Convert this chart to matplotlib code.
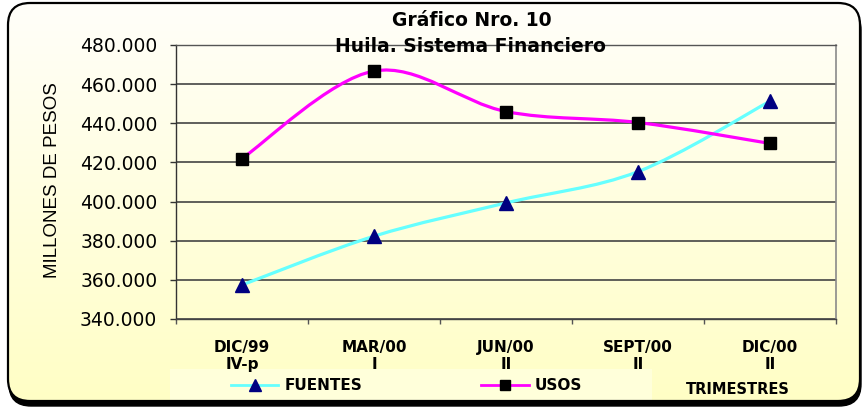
"""
Gráfico Nro. 10 — Huila. Sistema Financiero
Fuentes y usos por trimestre (millones de pesos).
"""

import numpy as np
import matplotlib
matplotlib.use("Agg")
import matplotlib.pyplot as plt
from matplotlib.lines import Line2D
from matplotlib.patches import FancyBboxPatch, PathPatch, Rectangle
from matplotlib.path import Path

# Datos
TRIMESTRES = ["DIC/99\nIV-p", "MAR/00\nI", "JUN/00\nII", "SEPT/00\nII", "DIC/00\nII"]
FUENTES = [357400, 382300, 399300, 415300, 451300]
USOS = [422000, 466700, 446000, 440400, 429700]
Y_TICKS = [340000, 360000, 380000, 400000, 420000, 440000, 460000, 480000]

W, H = 865, 408
COLOR_FUENTES = "#66FFFF"
COLOR_USOS = "#FF00FF"


def curva_suave(xs, ys):
    """Curva Bezier suavizada (estilo Excel) que pasa por todos los puntos."""
    pts = np.column_stack([xs, ys]).astype(float)
    ext = np.vstack([pts[0], pts, pts[-1]])
    verts = [pts[0]]
    codes = [Path.MOVETO]
    for i in range(len(pts) - 1):
        p0, p1, p2, p3 = ext[i], ext[i + 1], ext[i + 2], ext[i + 3]
        verts += [p1 + (p2 - p0) / 6, p2 - (p3 - p1) / 6, p2]
        codes += [Path.CURVE4] * 3
    return Path(verts, codes)


fig = plt.figure(figsize=(W / 100, H / 100), dpi=100)
fig.patch.set_facecolor("white")

# --- Fondo: recuadro redondeado con sombra y degradado ---
bg = fig.add_axes([0, 0, 1, 1], zorder=-5)
bg.set_xlim(0, W)
bg.set_ylim(H, 0)
bg.axis("off")

R = 22
x0, y0, ancho, alto = 8, 3, 852, 398
sombra = FancyBboxPatch((x0 + 1 + R, y0 + 5 + R), ancho - 2 * R, alto - 2 * R,
                        boxstyle=f"round,pad={R}", fc="black", ec="black", lw=1)
bg.add_patch(sombra)
caja = FancyBboxPatch((x0 + R, y0 + R), ancho - 2 * R, alto - 2 * R,
                      boxstyle=f"round,pad={R}", fc="#FFFFF0", ec="none")
bg.add_patch(caja)

grad = np.linspace(0, 1, 256)[:, None]
top = np.array([255, 255, 250]) / 255
bot = np.array([255, 254, 196]) / 255
img = top + (bot - top) * grad[..., None]
img = np.repeat(img, 2, axis=1)
im = bg.imshow(img, extent=(0, W, H, 0), aspect="auto", zorder=1)
im.set_clip_path(caja)
borde = FancyBboxPatch((x0 + R, y0 + R), ancho - 2 * R, alto - 2 * R,
                       boxstyle=f"round,pad={R}", fc="none", ec="black", lw=1.6, zorder=2)
bg.add_patch(borde)
# zona clara de la leyenda
bg.add_patch(Rectangle((170, 369), 482, 31, fc="#FFFFDA", ec="none", zorder=1.5))

# --- Área del gráfico ---
ax = fig.add_axes([176 / W, 1 - 319 / H, (836 - 176) / W, (319 - 45) / H])
ax.set_facecolor("none")

x = np.arange(len(TRIMESTRES))

for serie, color in [(FUENTES, COLOR_FUENTES), (USOS, COLOR_USOS)]:
    ax.add_patch(PathPatch(curva_suave(x, serie), fc="none", ec=color,
                           lw=2.3, zorder=3, capstyle="round"))

ax.plot(x, FUENTES, linestyle="none", marker="^", ms=10.5,
        mfc="#000080", mec="#000080", zorder=4)
ax.plot(x, USOS, linestyle="none", marker="s", ms=9,
        mfc="black", mec="black", zorder=4)

ax.set_xlim(-0.5, len(TRIMESTRES) - 0.5)
ax.set_ylim(Y_TICKS[0], Y_TICKS[-1])

ax.set_yticks(Y_TICKS)
ax.set_yticklabels([f"{v:,}".replace(",", ".") for v in Y_TICKS],
                   fontsize=13.5, color="black")
ax.tick_params(axis="y", direction="out", length=4.5, width=1, pad=9, color="#333333")

ax.set_xticks(x)
ax.set_xticklabels(TRIMESTRES, fontsize=11, fontweight="bold", linespacing=1.15)
ax.set_xticks(np.arange(-0.5, len(TRIMESTRES)), minor=True)
ax.tick_params(axis="x", which="major", length=0, pad=15)
ax.tick_params(axis="x", which="minor", direction="out", length=3.5, width=1, color="#555555")

ax.grid(axis="y", color="#444444", lw=1.2)
ax.set_axisbelow(True)

for lado, color in [("left", "#333333"), ("bottom", "#444444"),
                    ("right", "#8a8a8a"), ("top", "#555555")]:
    ax.spines[lado].set_color(color)
    ax.spines[lado].set_linewidth(1.2 if lado == "right" else 1)

# --- Títulos y textos ---
fig.text(472 / W, 1 - 20 / H, "Gráfico Nro. 10", ha="center", va="center",
         fontsize=13.5, fontweight="bold")
fig.text(470 / W, 1 - 46 / H, "Huila. Sistema Financiero", ha="center", va="center",
         fontsize=13.5, fontweight="bold", zorder=5)
fig.text(53 / W, 1 - 180 / H, "MILLONES DE PESOS", rotation=90, ha="center",
         va="center", fontsize=13.5, family="Liberation Sans")
fig.text(738 / W, 1 - 390 / H, "TRIMESTRES", ha="center", va="center",
         fontsize=10.5, fontweight="bold")

# --- Leyenda ---
handles = [
    Line2D([], [], color=COLOR_FUENTES, lw=2, marker="^", ms=9,
           mfc="#000080", mec="#000080"),
    Line2D([], [], color=COLOR_USOS, lw=2, marker="s", ms=7.5,
           mfc="black", mec="black"),
]
fig.legend(handles, ["FUENTES", "USOS"], loc="center left",
           bbox_to_anchor=(231 / W, 1 - 386 / H), ncol=2, frameon=False,
           borderpad=0, borderaxespad=0, handlelength=3.1, handletextpad=0.4,
           columnspacing=7.8, prop={"weight": "bold", "size": 11})

fig.savefig("out.png", dpi=100)
